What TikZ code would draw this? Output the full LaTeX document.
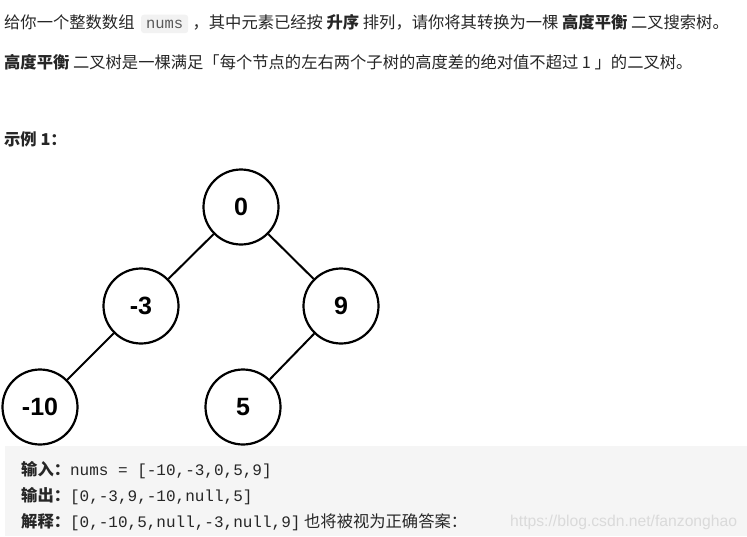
\documentclass[tikz,border=0pt]{standalone}
\usepackage{fontspec}
\usepackage{xcolor}
\usepackage{tikz}
\usetikzlibrary{positioning}
\setmainfont{Noto Sans CJK SC}
\setmonofont{Liberation Mono}
\newfontfamily\numfont{Liberation Sans}
\definecolor{txtdark}{HTML}{262626}
\definecolor{chipgray}{HTML}{F2F2F2}
\definecolor{chiptext}{HTML}{595959}
\definecolor{boxgray}{HTML}{F5F5F5}
\definecolor{markgray}{HTML}{DADADA}
\tikzset{
  txt/.style={inner sep=0pt, text=txtdark, font=\fontsize{16.3}{19}\selectfont},
  codechip/.style={rounded corners=3pt, fill=chipgray, text=chiptext, inner xsep=5pt, inner ysep=5pt, font=\fontsize{15.5}{18}\selectfont\ttfamily},
  codeline/.style={inner sep=0pt, text=txtdark, font=\fontsize{16.3}{19}\selectfont},
  treenode/.style={circle, draw=black, line width=2.2pt, minimum size=75pt, inner sep=0pt, font=\fontsize{25}{28}\selectfont\numfont\bfseries},
  edge/.style={line width=2pt, draw=black},
  watermark/.style={inner sep=0pt, text=markgray, font=\fontsize{15.7}{18}\selectfont\numfont}
}
\newcommand{\cd}[1]{{\fontsize{16}{19}\selectfont\ttfamily #1}}

\begin{document}
\begin{tikzpicture}[x=1pt, y=-1pt]
  \useasboundingbox (0,0) rectangle (747,536);

  % problem statement
  \node[txt, anchor=base west] (l1a) at (4,28) {给你一个整数数组};
  \node[codechip, anchor=base west] (nums) at ([xshift=6pt]l1a.base east) {nums};
  \node[txt, anchor=base west] (l1b) at ([xshift=4pt]nums.base east) {，其中元素已经按 \textbf{升序} 排列，请你将其转换为一棵 \textbf{高度平衡} 二叉搜索树。};
  \node[txt, anchor=base west] (l2) at (4,68) {\textbf{高度平衡} 二叉树是一棵满足「每个节点的左右两个子树的高度差的绝对值不超过 1 」的二叉树。};
  \node[txt, anchor=base west] (ex) at (4,145) {\textbf{示例 1：}};

  % tree
  \node[treenode] (n0) at (241,207) {0};
  \node[treenode] (nm3) at (141,306) {-3};
  \node[treenode] (n9) at (341,306) {9};
  \node[treenode] (nm10) at (40,407) {-10};
  \node[treenode] (n5) at (243,407) {5};
  \draw[edge] (n0) -- (nm3);
  \draw[edge] (n0) -- (n9);
  \draw[edge] (nm3) -- (nm10);
  \draw[edge] (n9) -- (n5);

  % example box
  \fill[boxgray] (5,446) rectangle (747,536);
  \node[codeline, anchor=base west] (in) at (21,475) {\textbf{输入：}\cd{nums = [-10,-3,0,5,9]}};
  \node[codeline, anchor=base west] (out) at (21,501) {\textbf{输出：}\cd{[0,-3,9,-10,null,5]}};
  \node[codeline, anchor=base west] (expl) at (21,527) {\textbf{解释：}\cd{[0,-10,5,null,-3,null,9]} 也将被视为正确答案：};
  \node[watermark, anchor=base west] (wm) at (510,526) {https://blog.csdn.net/fanzonghao};
\end{tikzpicture}
\end{document}
